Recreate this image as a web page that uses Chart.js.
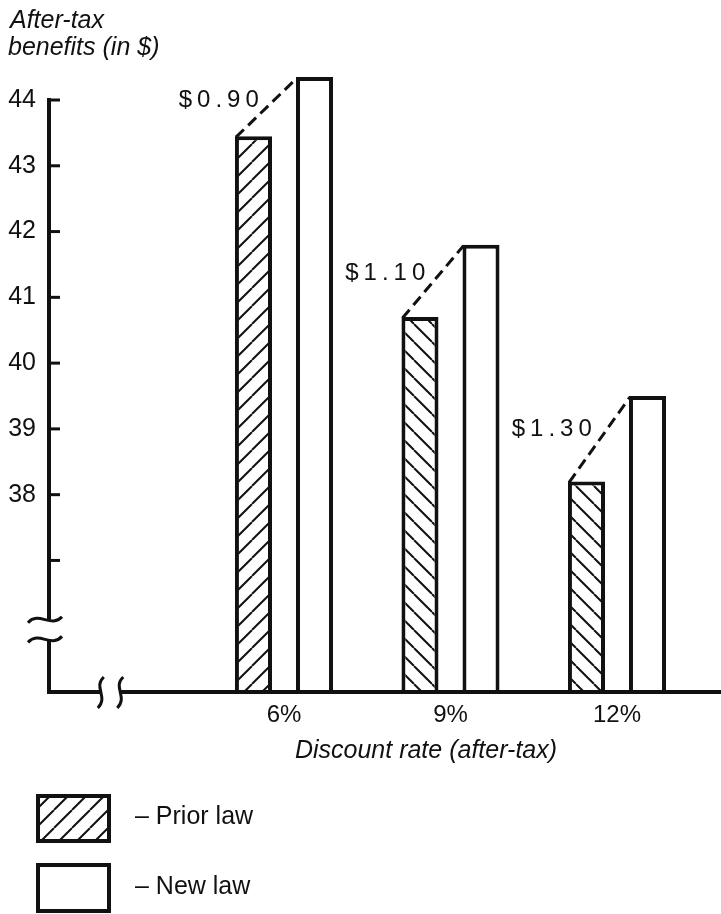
<!DOCTYPE html>
<html>
<head>
<meta charset="utf-8">
<script src="https://cdn.jsdelivr.net/npm/chart.js@4/dist/chart.umd.min.js"></script>
<style>
  html, body { margin: 0; padding: 0; background: #fff; }
  canvas { display: block; }
</style>
</head>
<body>
<canvas id="c" width="721" height="914"></canvas>
<script>
// After-tax benefits by discount rate, prior law vs new law
const rates = [6, 9, 12];
const rateLabels = ['6%', '9%', '12%'];
const priorLaw = [43.45, 40.7, 38.2];
const newLaw = [44.35, 41.8, 39.5];
const seriesNames = ['Prior law', 'New law'];
const hatchDirections = ['/', '\\', '\\'];
const yTickValues = [37, 38, 39, 40, 41, 42, 43, 44];
const yTickLabels = ['', '38', '39', '40', '41', '42', '43', '44'];
const yTitleLines = ['After-tax', 'benefits (in $)'];
const xTitle = 'Discount rate (after-tax)';

const INK = '#111';
const FONT = "'Liberation Sans', Arial, Helvetica, sans-serif";

const canvas = document.getElementById('c');
const ctx = canvas.getContext('2d');

// diagonal hatch tile used as a bar fill
function hatch(dir) {
  const s = 18;
  const t = document.createElement('canvas');
  t.width = s; t.height = s;
  const g = t.getContext('2d');
  g.fillStyle = '#fff';
  g.fillRect(0, 0, s, s);
  g.strokeStyle = INK;
  g.lineWidth = 2;
  g.beginPath();
  for (const k of [-s, 0, s]) {
    if (dir === '/') { g.moveTo(k, s); g.lineTo(k + s, 0); }
    else { g.moveTo(k, 0); g.lineTo(k + s, s); }
  }
  g.stroke();
  return ctx.createPattern(t, 'repeat');
}

function seg(c, x1, y1, x2, y2) {
  c.beginPath(); c.moveTo(x1, y1); c.lineTo(x2, y2); c.stroke();
}

const decorations = {
  id: 'decorations',
  afterDatasetsDraw(chart) {
    const c = chart.ctx;
    const xs = chart.scales.x, ys = chart.scales.y;
    const base = chart.chartArea.bottom;
    const ax = chart.chartArea.left + 1;
    c.save();
    c.strokeStyle = INK;
    c.fillStyle = INK;

    // vertical axis with a break near the bottom
    const yTop = ys.getPixelForValue(yTickValues[yTickValues.length - 1]);
    const brA = ys.getPixelForValue(36.1), brB = ys.getPixelForValue(35.8);
    c.lineWidth = 4;
    seg(c, ax, yTop - 2, ax, brA);
    seg(c, ax, brB, ax, base + 2);
    c.lineWidth = 3;
    for (const by of [brA, brB]) {
      c.beginPath();
      c.moveTo(ax - 21, by + 3);
      c.bezierCurveTo(ax - 10, by - 9, ax + 2, by + 9, ax + 13, by - 3);
      c.stroke();
    }
    // tick marks pointing into the plot
    c.lineWidth = 3;
    for (const v of yTickValues) {
      const py = ys.getPixelForValue(v);
      seg(c, ax, py, ax + 11, py);
    }

    // horizontal axis with a break near the left
    const bxA = xs.getPixelForValue(2.7), bxB = xs.getPixelForValue(3.05);
    c.lineWidth = 4;
    seg(c, ax - 2, base, bxA, base);
    seg(c, bxB, base, chart.chartArea.right, base);
    c.lineWidth = 3;
    for (const bx of [bxA, bxB]) {
      c.beginPath();
      c.moveTo(bx + 3, base - 15);
      c.bezierCurveTo(bx - 8, base - 5, bx + 8, base + 5, bx - 3, base + 16);
      c.stroke();
    }

    // dashed connectors between bar pairs, with the gain labelled
    const m0 = chart.getDatasetMeta(0).data, m1 = chart.getDatasetMeta(1).data;
    c.font = `24px ${FONT}`;
    c.letterSpacing = '5px';
    c.textAlign = 'right';
    c.textBaseline = 'middle';
    rates.forEach((r, i) => {
      const p = m0[i], n = m1[i];
      const x1 = p.x - p.width / 2 + 1, y1 = p.y + 1;
      const x2 = n.x - n.width / 2 + 1, y2 = n.y + 1;
      c.lineWidth = 3;
      c.setLineDash([11, 6]);
      seg(c, x1, y1, x2, y2);
      c.setLineDash([]);
      const t = 0.62;
      const lx = x1 + (x2 - x1) * t, ly = y1 + (y2 - y1) * t;
      const gain = (newLaw[i] - priorLaw[i]).toFixed(2);
      c.fillText('$' + gain, lx - 10, ly);
    });
    c.letterSpacing = '0px';

    // axis titles
    c.textAlign = 'left';
    c.textBaseline = 'alphabetic';
    c.font = `italic 25px ${FONT}`;
    c.fillText(yTitleLines[0], 10, 28);
    c.fillText(yTitleLines[1], 8, 55);
    c.textAlign = 'center';
    c.fillText(xTitle, 426, 758);

    // legend
    const ds = chart.data.datasets;
    const boxes = [
      { y: 794, h: 49, fill: hatch('/') },
      { y: 863, h: 50, fill: '#fff' }
    ];
    c.textAlign = 'left';
    c.textBaseline = 'middle';
    c.font = `25px ${FONT}`;
    boxes.forEach((b, i) => {
      c.fillStyle = b.fill;
      c.fillRect(38, b.y + 2, 71, b.h - 4);
      c.lineWidth = 4;
      c.strokeStyle = INK;
      c.strokeRect(38, b.y + 2, 71, b.h - 4);
      c.fillStyle = INK;
      c.fillText('\u2013 ' + ds[i].label, 135, b.y + b.h / 2 - 1);
    });
    c.restore();
  }
};

new Chart(ctx, {
  type: 'bar',
  data: {
    datasets: [
      {
        label: seriesNames[0],
        data: rates.map((r, i) => ({ x: r, y: priorLaw[i] })),
        backgroundColor: hatchDirections.map(hatch),
        borderColor: INK,
        borderWidth: 4,
        categoryPercentage: 0.733,
        barPercentage: 0.607
      },
      {
        label: seriesNames[1],
        data: rates.map((r, i) => ({ x: r, y: newLaw[i] })),
        backgroundColor: '#fff',
        borderColor: INK,
        borderWidth: 4,
        categoryPercentage: 0.733,
        barPercentage: 0.607
      }
    ]
  },
  options: {
    responsive: false,
    animation: false,
    devicePixelRatio: 1,
    layout: { padding: { top: 73.7, right: 0, bottom: 182, left: 0 } },
    plugins: { legend: { display: false }, tooltip: { enabled: false } },
    scales: {
      x: {
        type: 'linear',
        offset: false,
        min: 1.748,
        max: 13.874,
        grid: { display: false, offset: false },
        border: { display: false },
        afterBuildTicks: s => { s.ticks = rates.map(v => ({ value: v })); },
        afterFit: s => { s.height = 40; },
        ticks: {
          autoSkip: false,
          maxRotation: 0,
          padding: 1,
          color: INK,
          font: { family: FONT, size: 24 },
          callback: v => rateLabels[rates.indexOf(v)]
        }
      },
      y: {
        min: 35,
        max: 44.4,
        grid: { display: false },
        border: { display: false },
        afterBuildTicks: s => { s.ticks = yTickValues.map(v => ({ value: v })); },
        afterFit: s => { s.width = 48; },
        ticks: {
          autoSkip: false,
          padding: 4,
          color: INK,
          font: { family: FONT, size: 25 },
          callback: v => yTickLabels[yTickValues.indexOf(v)]
        }
      }
    }
  },
  plugins: [decorations]
});
</script>
</body>
</html>
